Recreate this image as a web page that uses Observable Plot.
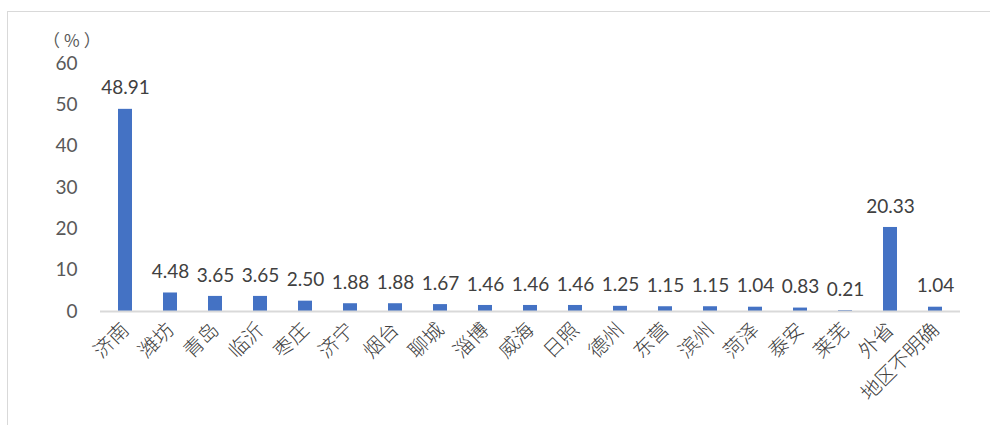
<!DOCTYPE html>
<html><head><meta charset="utf-8">
<script src="https://cdn.jsdelivr.net/npm/d3@7"></script>
<script src="https://cdn.jsdelivr.net/npm/@observablehq/plot@0.6"></script>
<style>
body{margin:0;background:#fff;}
#wrap{position:relative;width:990px;height:425px;overflow:hidden;}
#frame{position:absolute;left:7px;top:11px;width:1000px;height:500px;border:1px solid #d9d9d9;box-sizing:border-box;}
#unit{position:absolute;left:43px;top:31px;font:17px "Noto Sans CJK SC",sans-serif;line-height:17px;color:#595959;letter-spacing:4px;}
</style></head>
<body><div id="wrap"><div id="frame"></div><div id="unit">（%）</div></div>
<script>
const regions = ["济南","潍坊","青岛","临沂","枣庄","济宁","烟台","聊城","淄博","威海","日照","德州","东营","滨州","菏泽","泰安","莱芜","外省","地区不明确"];
const values = [48.91,4.48,3.65,3.65,2.50,1.88,1.88,1.67,1.46,1.46,1.46,1.25,1.15,1.15,1.04,0.83,0.21,20.33,1.04];
const yTicks = [0,10,20,30,40,50,60];
const data = regions.map((r,i)=>({region:r,value:values[i]}));
const chart = Plot.plot({
  width:990,height:425,
  marginLeft:100,marginRight:30,marginTop:63,marginBottom:114,
  style:{fontFamily:"Lato, 'Noto Sans', sans-serif",fontSize:"16px",color:"#595959",background:"transparent"},
  x:{domain:regions,paddingInner:0.69,paddingOuter:0.345,label:null},
  y:{domain:[0,60],label:null},
  marks:[
    Plot.axisY({ticks:yTicks,tickSize:0,tickPadding:23,fontSize:19,fill:"#595959"}),
    Plot.axisX({tickSize:0,tickRotate:-45,tickPadding:15,fontSize:20,fill:"#404040",fontFamily:"'Noto Sans CJK SC',sans-serif",fontWeight:300}),
    Plot.barY(data,{x:"region",y:"value",fill:"#4472c4"}),
    Plot.ruleY([0],{stroke:"#d9d9d9",strokeWidth:2}),
    Plot.text(data,{x:"region",y:"value",text:d=>d.value.toFixed(2),dy:-21,fontSize:19,fill:"#404040"})
  ]
});
chart.style.position="absolute";chart.style.left="0";chart.style.top="0";
document.getElementById("wrap").appendChild(chart);
</script></body></html>
